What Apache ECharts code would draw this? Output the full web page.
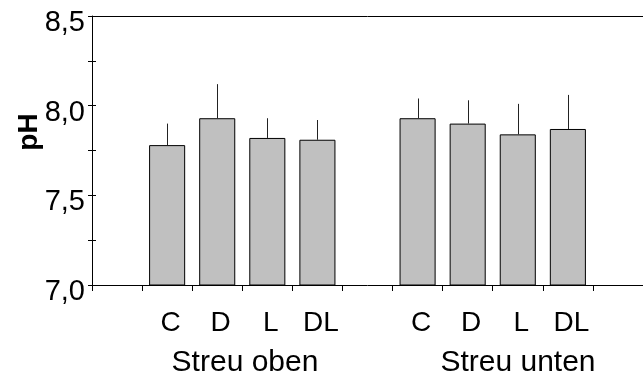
<!DOCTYPE html>
<html>
<head>
<meta charset="utf-8">
<script src="https://cdn.jsdelivr.net/npm/echarts@6/dist/echarts.min.js"></script>
<style>
  html, body { margin: 0; padding: 0; background: #fff; }
  #chart { width: 643px; height: 381px; }
</style>
</head>
<body>
<div id="chart"></div>
<script>
// pH of the litter treatments, mean and standard deviation
const treatments = ['C', 'D', 'L', 'DL'];
const groups = ['Streu oben', 'Streu unten'];
const phMean = [7.78, 7.93, 7.82, 7.81, 7.93, 7.90, 7.84, 7.87];
const phErr = [0.12, 0.19, 0.11, 0.11, 0.11, 0.13, 0.17, 0.19];
const yTicks = [7.0, 7.5, 8.0, 8.5];

const FONT = '"Liberation Sans", Arial, sans-serif';

// Category slots: one empty slot before, between and after the two groups
const slots = [''];
const slotMean = ['-'];
const errData = [];
groups.forEach((g, gi) => {
  treatments.forEach((t, ti) => {
    const k = gi * treatments.length + ti;
    errData.push([slots.length, phMean[k], phErr[k]]);
    slots.push(t);
    slotMean.push(phMean[k]);
  });
  slots.push('');
  slotMean.push('-');
});

const chart = echarts.init(document.getElementById('chart'), null, { renderer: 'canvas' });

const yLabel = v => yTicks.some(t => Math.abs(t - v) < 1e-6) ? v.toFixed(1).replace('.', ',') : '';

chart.setOption({
  animation: false,
  textStyle: { fontFamily: FONT, color: '#000' },
  grid: { left: 92, top: 16, width: 560, height: 269, containLabel: false },
  xAxis: [
    {
      type: 'category', data: slots, position: 'bottom', boundaryGap: true,
      axisLine: { show: true, lineStyle: { color: '#000', width: 1 } },
      axisTick: { show: true, interval: 0, length: 6, alignWithLabel: false, lineStyle: { color: '#000' } },
      axisLabel: { interval: 0, fontSize: 28, margin: 24, color: '#000', fontFamily: FONT, padding: [0, 0, 0, 7] }
    },
    {
      type: 'category', data: slots, position: 'top', boundaryGap: true,
      axisLine: { show: true, lineStyle: { color: '#000', width: 1 } },
      axisTick: { show: false }, axisLabel: { show: false }
    }
  ],
  yAxis: [
    {
      type: 'value', min: 7, max: 8.5, interval: 0.25, position: 'left',
      axisLine: { show: true, lineStyle: { color: '#000', width: 1 } },
      axisTick: { show: true, inside: false, length: 4, lineStyle: { color: '#000' } },
      splitLine: { show: false },
      axisLabel: {
        formatter: yLabel, fontSize: 29, color: '#000', fontFamily: FONT, margin: 7,
        verticalAlign: 'top', lineHeight: 14
      }
    },
    {
      type: 'value', min: 7, max: 8.5, interval: 0.25, position: 'left', offset: 0,
      axisLine: { show: false },
      axisTick: { show: true, inside: true, length: 4, lineStyle: { color: '#000' } },
      splitLine: { show: false }, axisLabel: { show: false }
    }
  ],
  series: [
    {
      type: 'bar', xAxisIndex: 0, yAxisIndex: 0, data: slotMean, barWidth: '72%',
      itemStyle: { color: '#c0c0c0', borderColor: '#000', borderWidth: 1 }
    },
    {
      type: 'custom', xAxisIndex: 0, yAxisIndex: 0, data: errData, z: 3,
      renderItem: (params, api) => {
        const x = api.value(0), m = api.value(1), e = api.value(2);
        const p0 = api.coord([x, m]);
        const p1 = api.coord([x, m + e]);
        const cx = Math.round(p0[0]) + 0.5;
        return {
          type: 'line',
          shape: { x1: cx, y1: p0[1], x2: cx, y2: p1[1] },
          style: { stroke: '#222', lineWidth: 1 }
        };
      }
    }
  ],
  graphic: [
    {
      type: 'text', x: 29, y: 132, rotation: Math.PI / 2,
      style: { text: 'pH', font: 'bold 28px ' + FONT, fill: '#000', align: 'center', verticalAlign: 'middle' }
    },
    {
      type: 'text', x: 245, y: 363,
      style: { text: groups[0], font: '30px ' + FONT, fill: '#000', align: 'center', verticalAlign: 'middle' }
    },
    {
      type: 'text', x: 518, y: 363,
      style: { text: groups[1], font: '30px ' + FONT, fill: '#000', align: 'center', verticalAlign: 'middle' }
    }
  ]
});
</script>
</body>
</html>
